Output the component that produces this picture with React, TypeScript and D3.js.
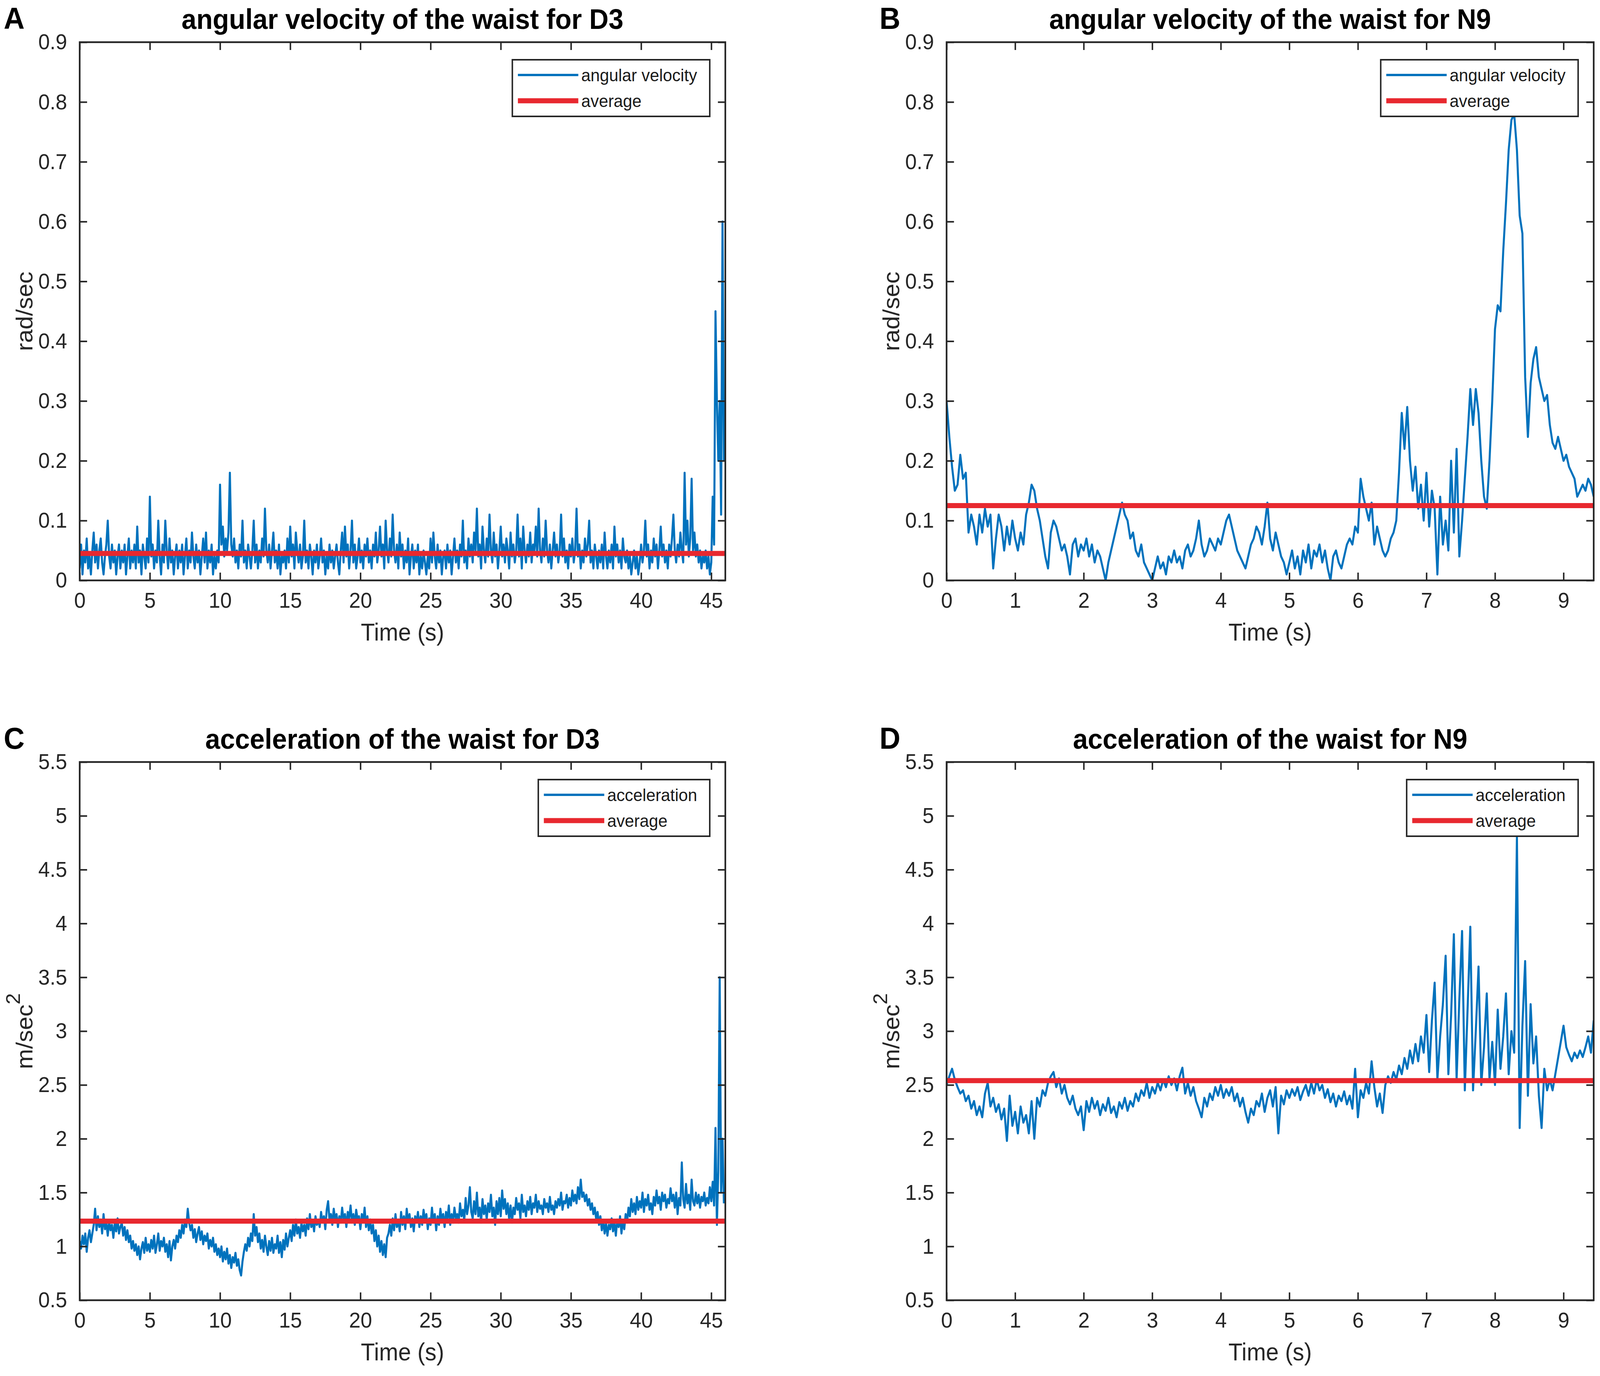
import { useEffect, useRef, useState } from "react";
import * as d3 from "d3";

const WIDTH = 4317;
const HEIGHT = 3523;

// sample spacing of the two recordings (s)
const DT_D3 = 0.1;
const DT_N9 = 0.04;

// angular velocity of the waist, subject D3 (rad/sec), one row per second
const velocityD3 = [
  0.02, 0.06, 0.01, 0.05, 0.03, 0.07, 0.02, 0.04, 0.01, 0.05,
  0.08, 0.03, 0.06, 0.02, 0.05, 0.07, 0.03, 0.01, 0.04, 0.06,
  0.10, 0.04, 0.02, 0.06, 0.03, 0.05, 0.01, 0.04, 0.06, 0.02,
  0.05, 0.03, 0.06, 0.01, 0.04, 0.07, 0.02, 0.05, 0.03, 0.06,
  0.02, 0.09, 0.03, 0.05, 0.01, 0.06, 0.04, 0.02, 0.07, 0.03,
  0.14, 0.04, 0.06, 0.02, 0.05, 0.03, 0.10, 0.04, 0.01, 0.06,
  0.03, 0.10, 0.05, 0.02, 0.07, 0.03, 0.05, 0.01, 0.04, 0.06,
  0.02, 0.05, 0.03, 0.06, 0.01, 0.04, 0.07, 0.02, 0.05, 0.03,
  0.08, 0.04, 0.02, 0.06, 0.03, 0.05, 0.01, 0.04, 0.07, 0.03,
  0.08, 0.02, 0.05, 0.03, 0.06, 0.01, 0.04, 0.02, 0.05, 0.03,
  0.16, 0.06, 0.09, 0.04, 0.07, 0.05, 0.08, 0.18, 0.06, 0.04,
  0.07, 0.03, 0.05, 0.02, 0.06, 0.04, 0.10, 0.03, 0.05, 0.02,
  0.06, 0.04, 0.02, 0.05, 0.10, 0.03, 0.06, 0.02, 0.05, 0.03,
  0.07, 0.04, 0.12, 0.05, 0.03, 0.06, 0.02, 0.05, 0.08, 0.03,
  0.05, 0.02, 0.06, 0.01, 0.04, 0.03, 0.05, 0.02, 0.07, 0.03,
  0.09, 0.04, 0.06, 0.02, 0.08, 0.05, 0.03, 0.06, 0.02, 0.04,
  0.10, 0.03, 0.05, 0.02, 0.06, 0.04, 0.01, 0.05, 0.03, 0.06,
  0.02, 0.04, 0.07, 0.03, 0.05, 0.01, 0.04, 0.02, 0.06, 0.03,
  0.05, 0.02, 0.04, 0.06, 0.03, 0.01, 0.05, 0.08, 0.03, 0.09,
  0.04, 0.06, 0.02, 0.05, 0.10, 0.03, 0.06, 0.02, 0.04, 0.07,
  0.03, 0.05, 0.02, 0.06, 0.04, 0.07, 0.03, 0.05, 0.02, 0.06,
  0.04, 0.08, 0.03, 0.05, 0.09, 0.04, 0.06, 0.02, 0.10, 0.05,
  0.03, 0.07, 0.04, 0.11, 0.05, 0.03, 0.06, 0.02, 0.08, 0.04,
  0.06, 0.02, 0.05, 0.03, 0.07, 0.01, 0.04, 0.06, 0.02, 0.05,
  0.03, 0.06, 0.01, 0.04, 0.02, 0.05, 0.03, 0.01, 0.04, 0.02,
  0.07, 0.03, 0.08, 0.04, 0.02, 0.06, 0.03, 0.05, 0.01, 0.04,
  0.05, 0.02, 0.06, 0.03, 0.05, 0.01, 0.04, 0.07, 0.03, 0.05,
  0.02, 0.06, 0.04, 0.10, 0.03, 0.05, 0.02, 0.07, 0.04, 0.06,
  0.03, 0.08, 0.05, 0.12, 0.04, 0.06, 0.02, 0.09, 0.05, 0.03,
  0.07, 0.04, 0.11, 0.05, 0.03, 0.08, 0.04, 0.06, 0.02, 0.05,
  0.09, 0.04, 0.06, 0.03, 0.07, 0.05, 0.02, 0.08, 0.04, 0.06,
  0.03, 0.05, 0.11, 0.04, 0.07, 0.02, 0.09, 0.05, 0.03, 0.06,
  0.04, 0.08, 0.03, 0.06, 0.05, 0.09, 0.04, 0.12, 0.05, 0.03,
  0.07, 0.04, 0.10, 0.05, 0.03, 0.06, 0.02, 0.05, 0.08, 0.04,
  0.06, 0.03, 0.05, 0.11, 0.04, 0.07, 0.03, 0.05, 0.02, 0.06,
  0.04, 0.07, 0.03, 0.05, 0.12, 0.04, 0.06, 0.02, 0.05, 0.03,
  0.07, 0.04, 0.06, 0.10, 0.03, 0.05, 0.02, 0.06, 0.04, 0.02,
  0.05, 0.03, 0.06, 0.02, 0.08, 0.04, 0.02, 0.05, 0.03, 0.06,
  0.02, 0.09, 0.04, 0.06, 0.03, 0.05, 0.02, 0.07, 0.04, 0.03,
  0.05, 0.02, 0.04, 0.01, 0.03, 0.05, 0.02, 0.04, 0.01, 0.03,
  0.06, 0.03, 0.05, 0.10, 0.04, 0.06, 0.02, 0.05, 0.03, 0.07,
  0.04, 0.06, 0.02, 0.05, 0.09, 0.04, 0.06, 0.03, 0.05, 0.02,
  0.06, 0.04, 0.07, 0.11, 0.05, 0.03, 0.06, 0.04, 0.08, 0.05,
  0.03, 0.18, 0.06, 0.10, 0.04, 0.07, 0.17, 0.05, 0.08, 0.04,
  0.06, 0.03, 0.05, 0.02, 0.04, 0.03, 0.05, 0.02, 0.04, 0.01,
  0.03, 0.14, 0.06, 0.45, 0.30, 0.20, 0.30, 0.11, 0.60, 0.20,
];

// angular velocity of the waist, subject N9 (rad/sec), one row per second
const velocityN9 = [
  0.30, 0.24, 0.19, 0.15, 0.16, 0.21, 0.17, 0.18, 0.08, 0.11, 0.09, 0.06, 0.11, 0.08, 0.12, 0.09, 0.11, 0.02, 0.07, 0.11, 0.09, 0.05, 0.09, 0.06, 0.10,
  0.07, 0.05, 0.08, 0.06, 0.11, 0.13, 0.16, 0.15, 0.12, 0.10, 0.07, 0.04, 0.02, 0.08, 0.10, 0.09, 0.07, 0.05, 0.06, 0.04, 0.01, 0.06, 0.07, 0.04, 0.06,
  0.05, 0.07, 0.04, 0.06, 0.03, 0.05, 0.04, 0.02, 0.00, 0.03, 0.05, 0.07, 0.09, 0.11, 0.13, 0.11, 0.10, 0.07, 0.08, 0.05, 0.04, 0.06, 0.03, 0.02, 0.01,
  0.00, 0.02, 0.04, 0.02, 0.03, 0.01, 0.04, 0.03, 0.05, 0.03, 0.04, 0.02, 0.05, 0.06, 0.04, 0.05, 0.07, 0.10, 0.06, 0.04, 0.05, 0.07, 0.06, 0.05, 0.07,
  0.06, 0.08, 0.10, 0.11, 0.09, 0.07, 0.05, 0.04, 0.03, 0.02, 0.04, 0.06, 0.07, 0.09, 0.08, 0.06, 0.09, 0.13, 0.07, 0.05, 0.08, 0.06, 0.04, 0.03, 0.01,
  0.03, 0.05, 0.02, 0.04, 0.01, 0.05, 0.03, 0.06, 0.02, 0.05, 0.04, 0.06, 0.03, 0.05, 0.02, 0.00, 0.04, 0.05, 0.03, 0.02, 0.04, 0.06, 0.07, 0.06, 0.09,
  0.08, 0.17, 0.14, 0.12, 0.10, 0.13, 0.06, 0.09, 0.07, 0.05, 0.04, 0.05, 0.07, 0.08, 0.10, 0.18, 0.28, 0.22, 0.29, 0.20, 0.15, 0.19, 0.12, 0.16, 0.10,
  0.18, 0.09, 0.15, 0.12, 0.01, 0.14, 0.06, 0.10, 0.05, 0.20, 0.08, 0.22, 0.04, 0.10, 0.17, 0.24, 0.32, 0.26, 0.32, 0.28, 0.20, 0.14, 0.12, 0.20, 0.30,
  0.42, 0.46, 0.45, 0.55, 0.63, 0.72, 0.77, 0.78, 0.72, 0.61, 0.58, 0.34, 0.24, 0.33, 0.37, 0.39, 0.34, 0.32, 0.30, 0.31, 0.26, 0.23, 0.22, 0.24, 0.22,
  0.20, 0.21, 0.19, 0.18, 0.17, 0.14, 0.15, 0.16, 0.15, 0.17, 0.16, 0.14,
];

// acceleration of the waist, subject D3 (m/sec^2), one row per second
const accelD3 = [
  1.05, 0.98, 1.10, 1.02, 1.12, 0.95, 1.08, 1.15, 1.04, 1.12,
  1.20, 1.35, 1.15, 1.28, 1.18, 1.25, 1.12, 1.30, 1.16, 1.22,
  1.10, 1.24, 1.15, 1.20, 1.08, 1.22, 1.14, 1.26, 1.12, 1.18,
  1.22, 1.10, 1.18, 1.06, 1.15, 1.04, 1.10, 0.98, 1.05, 0.96,
  1.02, 0.92, 1.00, 0.88, 0.98, 1.04, 0.94, 1.08, 0.96, 1.02,
  0.95, 1.06, 0.98, 1.10, 0.94, 1.02, 1.12, 0.96, 1.05, 1.00,
  1.08, 0.95, 1.02, 0.90, 1.05, 0.87, 1.00, 1.06, 0.98, 1.10,
  1.04, 1.15, 1.08, 1.20, 1.12, 1.25, 1.18, 1.35, 1.22, 1.15,
  1.20, 1.08, 1.16, 1.04, 1.12, 1.18, 1.06, 1.14, 1.02, 1.10,
  1.05, 1.12, 0.98, 1.06, 1.00, 1.08, 0.95, 1.02, 0.92, 0.98,
  0.90, 1.00, 0.86, 0.95, 0.88, 0.98, 0.84, 0.92, 0.80, 0.90,
  0.85, 0.94, 0.82, 0.88, 0.78, 0.73, 0.86, 0.95, 1.02, 0.96,
  1.08, 1.00, 1.12, 1.05, 1.30, 1.10, 1.18, 1.04, 1.12, 0.98,
  1.06, 0.95, 1.10, 1.00, 0.92, 1.05, 0.96, 1.08, 0.94, 1.02,
  0.98, 1.10, 0.94, 1.04, 0.90, 1.06, 0.97, 1.12, 1.00, 1.08,
  1.15, 1.05, 1.20, 1.10, 1.25, 1.12, 1.18, 1.08, 1.22, 1.14,
  1.20, 1.10, 1.26, 1.16, 1.30, 1.18, 1.24, 1.14, 1.28, 1.20,
  1.25, 1.18, 1.32, 1.22, 1.28, 1.16, 1.34, 1.42, 1.24, 1.30,
  1.20, 1.35, 1.25, 1.30, 1.18, 1.28, 1.22, 1.36, 1.24, 1.30,
  1.18, 1.32, 1.26, 1.38, 1.22, 1.30, 1.20, 1.34, 1.25, 1.28,
  1.16, 1.30, 1.22, 1.36, 1.18, 1.28, 1.15, 1.25, 1.12, 1.20,
  1.05, 1.15, 1.00, 1.10, 0.95, 1.05, 0.92, 1.02, 0.90, 1.08,
  1.12, 1.20, 1.10, 1.26, 1.15, 1.30, 1.18, 1.25, 1.14, 1.32,
  1.20, 1.28, 1.16, 1.35, 1.22, 1.30, 1.18, 1.26, 1.14, 1.28,
  1.22, 1.32, 1.18, 1.28, 1.20, 1.34, 1.24, 1.30, 1.16, 1.26,
  1.20, 1.36, 1.22, 1.30, 1.15, 1.28, 1.20, 1.35, 1.24, 1.30,
  1.18, 1.32, 1.25, 1.38, 1.20, 1.30, 1.22, 1.36, 1.26, 1.30,
  1.22, 1.40, 1.28, 1.34, 1.24, 1.45, 1.30, 1.38, 1.55, 1.32,
  1.26, 1.42, 1.30, 1.50, 1.28, 1.36, 1.22, 1.44, 1.30, 1.38,
  1.25, 1.40, 1.32, 1.48, 1.28, 1.36, 1.20, 1.42, 1.30, 1.45,
  1.28, 1.52, 1.35, 1.44, 1.30, 1.40, 1.25, 1.38, 1.22, 1.36,
  1.30, 1.45, 1.34, 1.40, 1.26, 1.48, 1.32, 1.38, 1.28, 1.42,
  1.34, 1.46, 1.30, 1.40, 1.36, 1.48, 1.32, 1.42, 1.35, 1.38,
  1.30, 1.44, 1.36, 1.40, 1.32, 1.46, 1.34, 1.38, 1.30, 1.42,
  1.36, 1.44, 1.38, 1.50, 1.34, 1.42, 1.40, 1.48, 1.36, 1.45,
  1.38, 1.52, 1.42, 1.48, 1.40, 1.55, 1.44, 1.62, 1.46, 1.50,
  1.42, 1.48, 1.38, 1.44, 1.34, 1.40, 1.30, 1.36, 1.25, 1.32,
  1.20, 1.28, 1.15, 1.24, 1.12, 1.22, 1.10, 1.20, 1.16, 1.26,
  1.14, 1.22, 1.10, 1.25, 1.18, 1.28, 1.12, 1.24, 1.16, 1.30,
  1.22, 1.36, 1.28, 1.44, 1.32, 1.40, 1.30, 1.46, 1.34, 1.42,
  1.36, 1.50, 1.32, 1.44, 1.38, 1.48, 1.34, 1.40, 1.30, 1.46,
  1.38, 1.52, 1.40, 1.46, 1.34, 1.50, 1.42, 1.48, 1.36, 1.44,
  1.40, 1.54, 1.42, 1.48, 1.36, 1.50, 1.30, 1.45, 1.38, 1.78,
  1.44, 1.36, 1.58, 1.40, 1.48, 1.34, 1.62, 1.42, 1.38, 1.50,
  1.40, 1.48, 1.36, 1.46, 1.42, 1.50, 1.38, 1.45, 1.40, 1.55,
  1.42, 1.60, 1.38, 2.10, 1.20, 1.70, 3.50, 1.50, 2.00, 1.40,
];

// acceleration of the waist, subject N9 (m/sec^2), one row per second
const accelN9 = [
  2.50, 2.58, 2.65, 2.55, 2.48, 2.42, 2.45, 2.35, 2.40, 2.28, 2.35, 2.22, 2.30, 2.20, 2.42, 2.52, 2.30, 2.38, 2.25, 2.32, 2.18, 2.28, 1.98, 2.40, 2.12,
  2.25, 2.05, 2.30, 2.15, 2.22, 2.05, 2.35, 2.00, 2.38, 2.30, 2.45, 2.40, 2.52, 2.58, 2.62, 2.48, 2.56, 2.42, 2.50, 2.38, 2.32, 2.40, 2.28, 2.22, 2.30,
  2.08, 2.35, 2.25, 2.38, 2.28, 2.35, 2.22, 2.32, 2.26, 2.38, 2.24, 2.30, 2.20, 2.34, 2.28, 2.38, 2.26, 2.35, 2.30, 2.42, 2.35, 2.45, 2.40, 2.52, 2.38,
  2.48, 2.42, 2.52, 2.45, 2.55, 2.48, 2.58, 2.50, 2.56, 2.45, 2.58, 2.66, 2.42, 2.52, 2.40, 2.48, 2.35, 2.28, 2.20, 2.38, 2.30, 2.42, 2.36, 2.48, 2.40,
  2.50, 2.38, 2.46, 2.40, 2.48, 2.35, 2.42, 2.30, 2.38, 2.25, 2.15, 2.28, 2.22, 2.35, 2.30, 2.42, 2.25, 2.38, 2.45, 2.30, 2.48, 2.05, 2.40, 2.32, 2.45,
  2.38, 2.46, 2.40, 2.48, 2.36, 2.44, 2.50, 2.40, 2.52, 2.42, 2.55, 2.45, 2.50, 2.38, 2.46, 2.34, 2.42, 2.30, 2.40, 2.35, 2.44, 2.32, 2.40, 2.28, 2.65,
  2.20, 2.45, 2.38, 2.52, 2.42, 2.72, 2.48, 2.30, 2.42, 2.24, 2.50, 2.58, 2.52, 2.62, 2.55, 2.68, 2.60, 2.75, 2.65, 2.82, 2.70, 2.88, 2.72, 2.95, 2.80,
  3.15, 2.62, 3.10, 3.45, 2.55, 2.95, 3.25, 3.70, 2.60, 3.15, 3.90, 2.55, 3.30, 3.93, 2.45, 3.20, 3.97, 2.45, 3.00, 3.60, 2.50, 2.85, 3.35, 2.55, 2.90,
  2.50, 3.20, 2.65, 2.95, 3.35, 2.60, 3.00, 2.80, 4.80, 2.10, 3.05, 3.65, 2.40, 3.25, 2.70, 2.95, 2.40, 2.10, 2.65, 2.45, 2.55, 2.45, 2.60, 2.75, 2.90,
  3.05, 2.85, 2.78, 2.72, 2.80, 2.75, 2.82, 2.76, 2.85, 2.95, 2.80, 3.10,
];

// mean of each recording (drawn as the red line)
const avgVelocityD3 = 0.045;
const avgVelocityN9 = 0.125;
const avgAccelD3 = 1.235;
const avgAccelN9 = 2.54;

const xTicksD3 = [0, 5, 10, 15, 20, 25, 30, 35, 40, 45];
const xTicksN9 = [0, 1, 2, 3, 4, 5, 6, 7, 8, 9];
const yTicksVelocity = [0, 0.1, 0.2, 0.3, 0.4, 0.5, 0.6, 0.7, 0.8, 0.9];
const yTicksAccel = [0.5, 1, 1.5, 2, 2.5, 3, 3.5, 4, 4.5, 5, 5.5];

const FONT = "'Liberation Sans', Arial, Helvetica, sans-serif";
const BLUE = "#0072bd";
const RED = "#e8282f";
const AXIS_COLOR = "#262626";
const TICK = 20;

// plot boxes
const COL_LEFT = [215, 2554];
const COL_RIGHT = [1957, 4300];
const LETTER_X = [10, 2373];
const ROW_TOP = [108, 1951];
const PLOT_H = 1378;

interface PanelSpec {
  id: string;
  letter: string;
  title: string;
  seriesName: string;
  yLabel: string;
  yLabelSup?: string;
  values: number[];
  dt: number;
  average: number;
  xMax: number;
  yDomain: [number, number];
  xTicks: number[];
  yTicks: number[];
  col: number;
  row: number;
}

const panels: PanelSpec[] = [
  {
    id: "a", letter: "A", title: "angular velocity of the waist for D3", seriesName: "angular velocity",
    yLabel: "rad/sec", values: velocityD3, dt: DT_D3, average: avgVelocityD3, xMax: 46,
    yDomain: [0, 0.9], xTicks: xTicksD3, yTicks: yTicksVelocity, col: 0, row: 0,
  },
  {
    id: "b", letter: "B", title: "angular velocity of the waist for N9", seriesName: "angular velocity",
    yLabel: "rad/sec", values: velocityN9, dt: DT_N9, average: avgVelocityN9, xMax: 9.44,
    yDomain: [0, 0.9], xTicks: xTicksN9, yTicks: yTicksVelocity, col: 1, row: 0,
  },
  {
    id: "c", letter: "C", title: "acceleration of the waist for D3", seriesName: "acceleration",
    yLabel: "m/sec", yLabelSup: "2", values: accelD3, dt: DT_D3, average: avgAccelD3, xMax: 46,
    yDomain: [0.5, 5.5], xTicks: xTicksD3, yTicks: yTicksAccel, col: 0, row: 1,
  },
  {
    id: "d", letter: "D", title: "acceleration of the waist for N9", seriesName: "acceleration",
    yLabel: "m/sec", yLabelSup: "2", values: accelN9, dt: DT_N9, average: avgAccelN9, xMax: 9.44,
    yDomain: [0.5, 5.5], xTicks: xTicksN9, yTicks: yTicksAccel, col: 1, row: 1,
  },
];

function drawPanel(svg: d3.Selection<SVGSVGElement, unknown, null, undefined>, p: PanelSpec) {
  const left = COL_LEFT[p.col];
  const right = COL_RIGHT[p.col];
  const top = ROW_TOP[p.row];
  const bottom = top + PLOT_H;

  const x = d3.scaleLinear().domain([0, p.xMax]).range([left, right]);
  const y = d3.scaleLinear().domain(p.yDomain).range([bottom, top]);

  const g = svg.append("g");

  // panel letter and title
  g.append("text")
    .attr("x", LETTER_X[p.col])
    .attr("y", top - 34)
    .attr("font-family", FONT)
    .attr("font-weight", "bold")
    .attr("font-size", 78)
    .text(p.letter);

  g.append("text")
    .attr("x", (left + right) / 2)
    .attr("y", top - 34)
    .attr("text-anchor", "middle")
    .attr("font-family", FONT)
    .attr("font-weight", "bold")
    .attr("font-size", 72)
    .text(p.title);

  // data
  const clipId = `clip-${p.id}`;
  g.append("clipPath").attr("id", clipId)
    .append("rect")
    .attr("x", left).attr("y", top)
    .attr("width", right - left).attr("height", bottom - top);

  const line = d3.line<number>()
    .x((_, i) => x(i * p.dt))
    .y((d) => y(d));

  const plot = g.append("g").attr("clip-path", `url(#${clipId})`);
  plot.append("path")
    .attr("d", line(p.values))
    .attr("fill", "none")
    .attr("stroke", BLUE)
    .attr("stroke-width", 5.5)
    .attr("stroke-linejoin", "round");

  plot.append("line")
    .attr("x1", left).attr("x2", right)
    .attr("y1", y(p.average)).attr("y2", y(p.average))
    .attr("stroke", RED)
    .attr("stroke-width", 13);

  // axes, matlab style: ticks inward on all four sides
  const styleAxis = (sel: d3.Selection<SVGGElement, unknown, null, undefined>) => {
    sel.attr("font-size", null).attr("font-family", null);
    sel.select(".domain").remove();
    sel.selectAll(".tick line").attr("stroke", AXIS_COLOR).attr("stroke-width", 4);
    sel.selectAll(".tick text")
      .attr("fill", AXIS_COLOR)
      .attr("font-family", FONT)
      .attr("font-size", 56);
  };

  g.append("g").attr("transform", `translate(0,${bottom})`)
    .call(d3.axisBottom(x).tickValues(p.xTicks).tickSizeInner(-TICK).tickSizeOuter(0)
      .tickPadding(30).tickFormat((d) => String(d)))
    .call(styleAxis);
  g.append("g").attr("transform", `translate(0,${top})`)
    .call(d3.axisTop(x).tickValues(p.xTicks).tickSizeInner(-TICK).tickSizeOuter(0)
      .tickFormat(() => ""))
    .call(styleAxis);
  g.append("g").attr("transform", `translate(${left},0)`)
    .call(d3.axisLeft(y).tickValues(p.yTicks).tickSizeInner(-TICK).tickSizeOuter(0)
      .tickPadding(34).tickFormat((d) => String(d)))
    .call(styleAxis);
  g.append("g").attr("transform", `translate(${right},0)`)
    .call(d3.axisRight(y).tickValues(p.yTicks).tickSizeInner(-TICK).tickSizeOuter(0)
      .tickFormat(() => ""))
    .call(styleAxis);

  g.append("rect")
    .attr("x", left).attr("y", top)
    .attr("width", right - left).attr("height", bottom - top)
    .attr("fill", "none")
    .attr("stroke", AXIS_COLOR)
    .attr("stroke-width", 4.5);

  // axis labels
  g.append("text")
    .attr("x", (left + right) / 2)
    .attr("y", bottom + 154)
    .attr("text-anchor", "middle")
    .attr("font-family", FONT)
    .attr("font-size", 62)
    .attr("fill", AXIS_COLOR)
    .text("Time (s)");

  const yl = g.append("text")
    .attr("transform", `translate(${left - 128},${(top + bottom) / 2}) rotate(-90)`)
    .attr("text-anchor", "middle")
    .attr("font-family", FONT)
    .attr("font-size", 62)
    .attr("fill", AXIS_COLOR);
  yl.append("tspan").text(p.yLabel);
  if (p.yLabelSup) {
    yl.append("tspan").attr("dy", -33).attr("font-size", 52).text(p.yLabelSup);
  }

  // legend
  const legend = g.append("g");
  const labels = [p.seriesName, "average"];
  const texts = legend.selectAll<SVGTextElement, string>("text")
    .data(labels)
    .join("text")
    .attr("font-family", FONT)
    .attr("font-size", 45)
    .attr("fill", "#1a1a1a")
    .attr("dominant-baseline", "central")
    .text((d) => d);
  const textW = d3.max(texts.nodes(), (n) => n.getComputedTextLength()) ?? 0;
  const boxW = 186 + textW + 34;
  const boxL = right - 42 - boxW;
  const boxT = top + 45;
  const rowY = [boxT + 39, boxT + 105];

  legend.insert("rect", ":first-child")
    .attr("x", boxL).attr("y", boxT)
    .attr("width", boxW).attr("height", 145)
    .attr("fill", "white")
    .attr("stroke", AXIS_COLOR)
    .attr("stroke-width", 4);
  texts.attr("x", boxL + 186).attr("y", (_, i) => rowY[i]);
  legend.selectAll("line.sample")
    .data([{ c: BLUE, w: 6 }, { c: RED, w: 13 }])
    .join("line")
    .attr("class", "sample")
    .attr("x1", boxL + 15).attr("x2", boxL + 178)
    .attr("y1", (_, i) => rowY[i]).attr("y2", (_, i) => rowY[i])
    .attr("stroke", (d) => d.c)
    .attr("stroke-width", (d) => d.w);
}

export default function App() {
  const svgRef = useRef<SVGSVGElement>(null);
  // fill whatever viewport we get; the drawing itself lives in the 4317x3523 viewBox
  const [size, setSize] = useState(() => ({
    w: typeof window !== "undefined" ? window.innerWidth || WIDTH : WIDTH,
    h: typeof window !== "undefined" ? window.innerHeight || HEIGHT : HEIGHT,
  }));

  useEffect(() => {
    document.body.style.margin = "0";
    document.body.style.overflow = "hidden";
    setSize({ w: window.innerWidth || WIDTH, h: window.innerHeight || HEIGHT });
  }, []);

  useEffect(() => {
    const svg = d3.select(svgRef.current as SVGSVGElement);
    svg.selectAll("*").remove();
    panels.forEach((p) => drawPanel(svg, p));
  }, []);

  return (
    <svg
      ref={svgRef}
      width={size.w}
      height={size.h}
      viewBox={`0 0 ${WIDTH} ${HEIGHT}`}
      preserveAspectRatio="none"
      style={{ position: "absolute", left: 0, top: 0, background: "white", display: "block" }}
    />
  );
}
